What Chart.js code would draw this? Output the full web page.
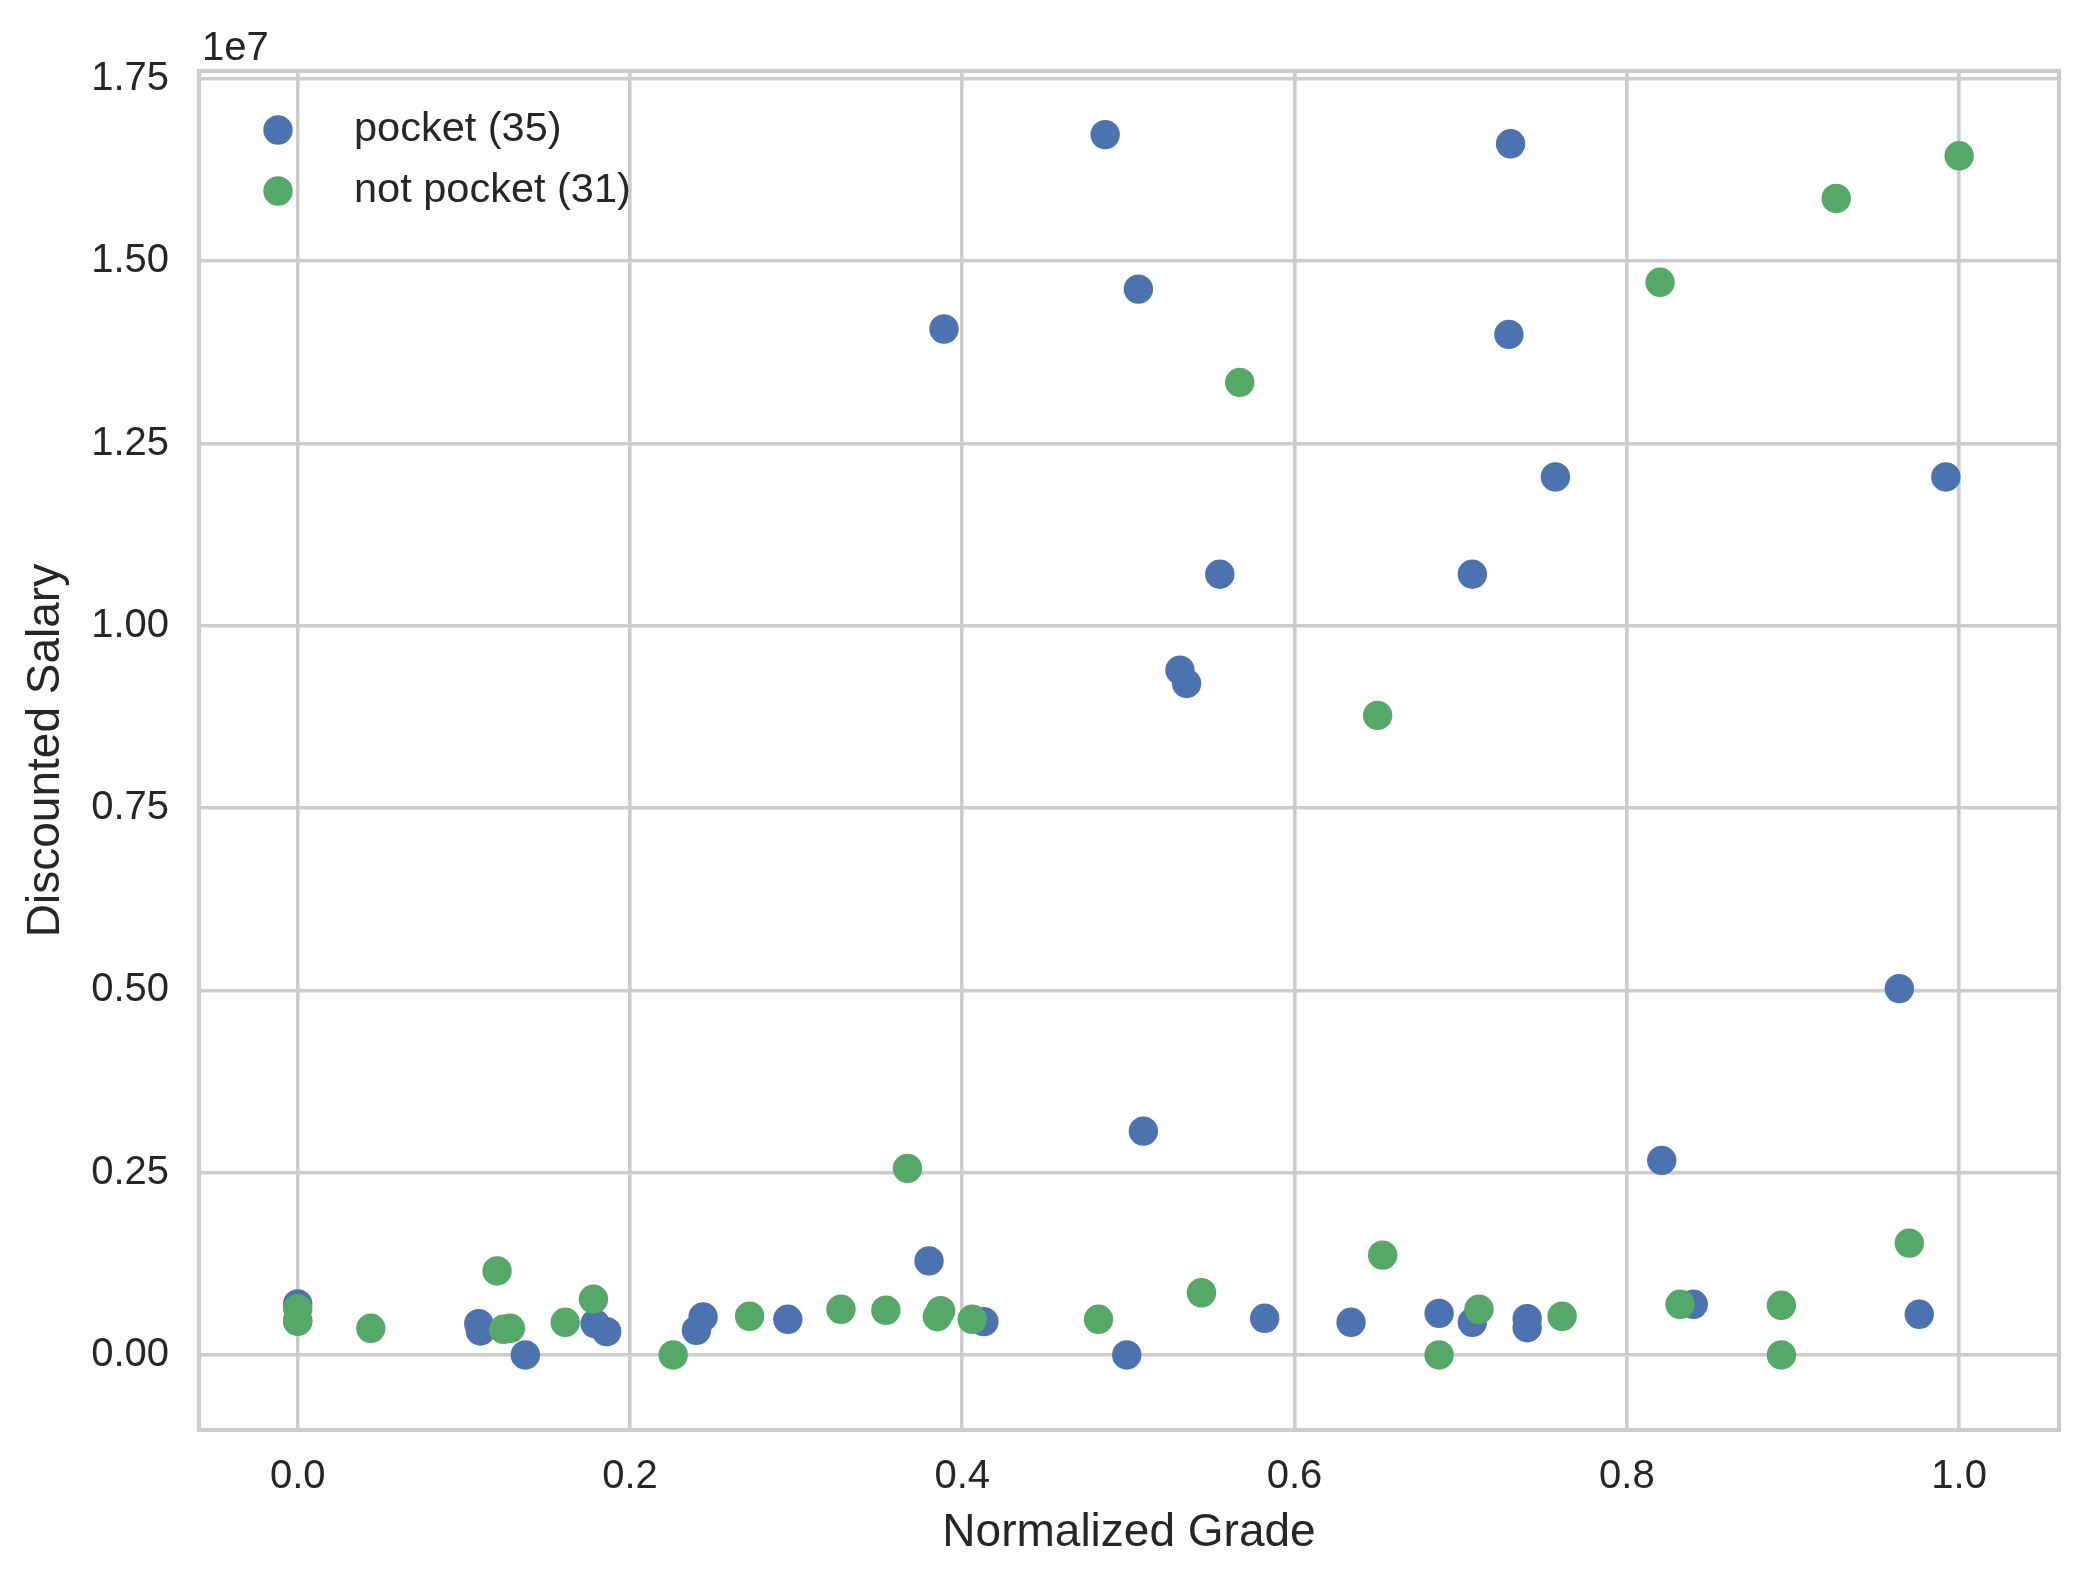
<!DOCTYPE html>
<html>
<head>
<meta charset="utf-8">
<title>Discounted Salary vs Normalized Grade</title>
<script src="https://cdn.jsdelivr.net/npm/chart.js@4.4.0/dist/chart.umd.min.js"></script>
<style>
    html, body { margin: 0; padding: 0; background: #ffffff; }
    canvas { display: block; }
</style>
</head>
<body>
<canvas id="myChart" width="2089" height="1586"></canvas>
<script>
// Data
const pocketGrade = [
    0.486, 0.730, 0.389, 0.506, 0.729, 0.757, 0.992, 0.555, 0.707, 0.531,
    0.535, 0.964, 0.509, 0.821, 0.380, 0.000, 0.000, 0.109, 0.110, 0.137,
    0.179, 0.186, 0.244, 0.240, 0.295, 0.413, 0.499, 0.582, 0.634, 0.687,
    0.707, 0.740, 0.740, 0.840, 0.976
];
const pocketSalary = [
    16736000, 16610000, 14070000, 14617000, 13996000, 12041000, 12041000, 10707000, 10707000, 9392000,
    9209000, 5024000, 3070000, 2669000, 1290000, 700000, 466000, 429000, 329000, 0,
    430000, 320000, 521000, 339000, 489000, 457000, 0, 503000, 448000, 571000,
    448000, 498000, 374000, 695000, 558000
];
const notPocketGrade = [
    1.000, 0.926, 0.820, 0.567, 0.650, 0.367, 0.970, 0.120, 0.653, 0.544,
    0.178, 0.000, 0.000, 0.044, 0.124, 0.128, 0.161, 0.226, 0.272, 0.327,
    0.354, 0.385, 0.387, 0.406, 0.482, 0.687, 0.711, 0.761, 0.832, 0.893,
    0.893
];
const notPocketSalary = [
    16445000, 15860000, 14710000, 13338000, 8771000, 2559000, 1534000, 1152000, 1369000, 853000,
    766000, 635000, 466000, 366000, 352000, 366000, 448000, 0, 531000, 627000,
    613000, 525000, 608000, 489000, 489000, 0, 627000, 531000, 695000, 681000,
    0
];

// Axes
const xTicks = [0, 0.2, 0.4, 0.6, 0.8, 1.0];
const yTicks = [0, 2500000, 5000000, 7500000, 10000000, 12500000, 15000000, 17500000];
const yExponent = 7;
const xRange = [-0.0594, 1.0601];
const yRange = [-1029000, 17608000];

// Style
const BLUE = '#4C72B0';
const GREEN = '#55A868';
const GRID = '#cccccc';
const TEXT = '#262626';
const FONT = '"Liberation Sans", Arial, sans-serif';

function toPoints(xs, ys) {
    return xs.map((x, i) => ({ x: x, y: ys[i] }));
}

// frame, offset text "1e7" and legend drawn on the canvas
const frameAndLegend = {
    id: 'frameAndLegend',
    afterDatasetsDraw(chart) {
        const { ctx, chartArea: a } = chart;
        ctx.save();
        ctx.strokeStyle = GRID;
        ctx.lineWidth = 4.2;
        ctx.strokeRect(a.left, a.top, a.right - a.left, a.bottom - a.top);
        ctx.restore();
    },
    afterDraw(chart) {
        const { ctx, chartArea: a } = chart;
        ctx.save();
        ctx.textBaseline = 'alphabetic';
        ctx.textAlign = 'left';
        ctx.fillStyle = TEXT;
        ctx.font = '40px ' + FONT;
        ctx.fillText('1e' + yExponent, a.left + 3, a.top - 11);

        ctx.font = '41.5px ' + FONT;
        chart.data.datasets.forEach((ds, i) => {
            const cy = a.top + 59 + i * 61;
            ctx.beginPath();
            ctx.arc(a.left + 79, cy, 14.7, 0, Math.PI * 2);
            ctx.fillStyle = ds.backgroundColor;
            ctx.fill();
            ctx.fillStyle = TEXT;
            ctx.fillText(ds.label, a.left + 155, cy + 11);
        });
        ctx.restore();
    }
};

function drawChart() {
    Chart.defaults.font.family = FONT;
    Chart.defaults.color = TEXT;

    const ctx = document.getElementById('myChart').getContext('2d');
    new Chart(ctx, {
        type: 'scatter',
        data: {
            datasets: [{
                label: 'pocket (' + pocketGrade.length + ')',
                data: toPoints(pocketGrade, pocketSalary),
                backgroundColor: BLUE,
                borderWidth: 0,
                pointRadius: 14.7,
                order: 1
            }, {
                label: 'not pocket (' + notPocketGrade.length + ')',
                data: toPoints(notPocketGrade, notPocketSalary),
                backgroundColor: GREEN,
                borderWidth: 0,
                pointRadius: 14.7,
                order: 0
            }]
        },
        options: {
            responsive: false,
            animation: false,
            devicePixelRatio: 1,
            layout: { padding: { top: 71, right: 30, left: 0, bottom: 0 } },
            plugins: {
                legend: { display: false },
                tooltip: { enabled: false }
            },
            scales: {
                x: {
                    type: 'linear',
                    min: xRange[0],
                    max: xRange[1],
                    afterBuildTicks: scale => { scale.ticks = xTicks.map(v => ({ value: v })); },
                    afterFit: scale => { scale.height = 156; },
                    grid: { color: GRID, lineWidth: 3.6, drawTicks: false },
                    border: { display: false },
                    ticks: {
                        padding: 23,
                        font: { size: 40 },
                        color: TEXT,
                        callback: v => v.toFixed(1)
                    },
                    title: {
                        display: true,
                        text: 'Normalized Grade',
                        font: { size: 46 },
                        color: TEXT,
                        padding: { top: 0, bottom: 25 }
                    }
                },
                y: {
                    type: 'linear',
                    min: yRange[0],
                    max: yRange[1],
                    afterBuildTicks: scale => { scale.ticks = yTicks.map(v => ({ value: v })); },
                    afterFit: scale => { scale.width = 199; },
                    grid: { color: GRID, lineWidth: 3.6, drawTicks: false },
                    border: { display: false },
                    ticks: {
                        padding: 30,
                        font: { size: 40 },
                        color: TEXT,
                        callback: v => (v / Math.pow(10, yExponent)).toFixed(2)
                    },
                    title: {
                        display: true,
                        text: 'Discounted Salary',
                        font: { size: 46 },
                        color: TEXT,
                        padding: { top: 19, bottom: 0 }
                    }
                }
            }
        },
        plugins: [frameAndLegend]
    });
}

drawChart();
</script>
</body>
</html>
